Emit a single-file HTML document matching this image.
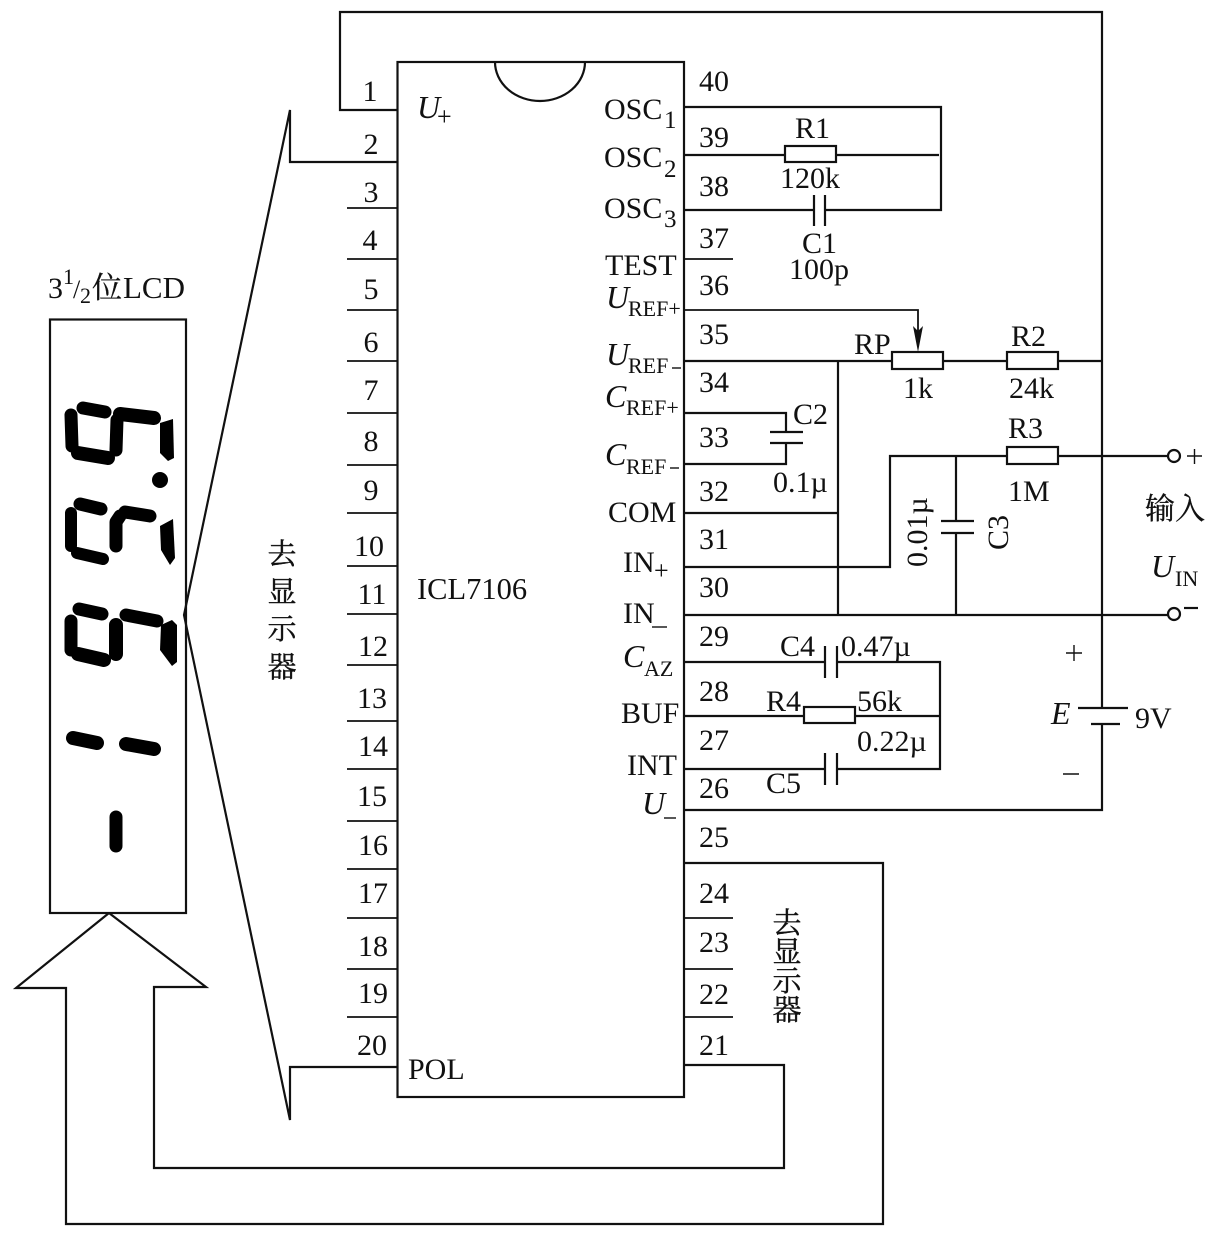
<!DOCTYPE html>
<html><head><meta charset="utf-8"><style>
html,body{margin:0;padding:0;background:#fff}
svg{display:block}
text{font-family:"Liberation Serif","Noto Serif CJK SC",serif;fill:#111;font-size:30px}
.n{font-size:29px;text-anchor:middle}
.s{font-size:22px}
.d{font-size:25px}
.i{font-style:italic;font-size:32px}
.z{font-size:29px;text-anchor:middle;font-family:"Noto Serif CJK SC","Liberation Serif",serif;stroke:#111;stroke-width:.4}
.w{fill:none;stroke:#111;stroke-width:2.2}
.t{fill:none;stroke:#111;stroke-width:1.8}
.b{fill:#fff;stroke:#111;stroke-width:2.2}
.seg{fill:none;stroke:#000;stroke-width:13;stroke-linecap:round;stroke-linejoin:round}
</style></head><body>
<svg width="1226" height="1241" viewBox="0 0 1226 1241" xmlns="http://www.w3.org/2000/svg">
<rect width="1226" height="1241" fill="#fff"/>

<!-- IC -->
<rect x="397.5" y="62" width="286.5" height="1035" class="w"/>
<path d="M495 62 A45 39 0 0 0 585 62" class="w"/>

<!-- left pins -->
<path class="t" d="M347 208H397M347 259H397M347 310H397M347 361H397M347 413H397M347 465H397M347 513H397M347 566H397M347 614H397M347 665H397M347 721H397M347 769H397M347 821H397M347 869H397M347 918H397M347 969H397M347 1017H397"/>
<path class="w" d="M397 110H340V12H1102V708M1102 724V810H684"/>
<path class="w" d="M397 162H290V110L184 615L290 1120V1067H397"/>

<!-- right simple pins -->
<path class="t" d="M684 259H733M684 918H733M684 969H733M684 1017H733"/>

<!-- LCD -->
<rect x="50" y="319.500" width="136" height="593.500" class="w"/>
<path class="w" d="M109 913L16 988H66V1224H883V863H684"/>
<path class="w" d="M109 913L206 987H154V1168H784V1065H684"/>

<g class="seg">
<path d="M71 415L72 446"/><path d="M83 408L105 412"/><path d="M120 414L154 418" style="stroke-width:14"/>
<path d="M117 420L116 450"/><path d="M78 453L108 458" style="stroke-width:14"/>
<path d="M71 513L71 546" style="stroke-width:12"/><path d="M80 504L101 509"/><path d="M125 512L150 516"/>
<path d="M120 516L116 522L116 546"/><path d="M77 553L103 559" style="stroke-width:12"/>
<path d="M71 621L71 650"/><path d="M79 609L102 614"/><path d="M126 615L157 621"/>
<path d="M116 625L116 654" style="stroke-width:14"/><path d="M78 654L104 660" style="stroke-width:14"/>
<path d="M73 738L97 743" style="stroke-width:14"/><path d="M126 744L154 749" style="stroke-width:14"/>
<path d="M116 817L116 846" style="stroke-width:13"/>
</g>
<path d="M160 423L173 419L174 458L168 461L160 453Z" fill="#000"/>
<path d="M160 526L173 519L175 558L170 565L161 550Z" fill="#000"/>
<path d="M161 625L172 620L177 625L177 662L172 666L160 650Z" fill="#000"/>
<circle cx="160" cy="480" r="8" fill="#000"/>

<!-- OSC network -->
<path class="w" d="M684 107H941V210H826M814 210H684M684 155H785M836 155H939"/>
<rect x="785" y="146" width="51" height="16" class="b"/>
<path class="w" d="M814 195V226M825 195V226"/>

<!-- UREF -->
<path class="t" d="M684 310H918V345"/>
<path d="M918 352L913 326L918 331L923 326Z" fill="#111"/>
<path class="w" d="M684 361H892M943 361H1007M1058 361H1102M838 361V614"/>
<rect x="892" y="352" width="51" height="17" class="b"/>
<rect x="1007" y="352" width="51" height="17" class="b"/>

<!-- C2 -->
<path class="w" d="M684 413H786V432M786 443V464H684M770 432H803M770 443H803"/>
<!-- COM / IN -->
<path class="w" d="M684 513H838M684 567H890V456H1007M1058 456H1168M956 456V521M956 533V614M941 521H974M941 533H974M684 615H1168"/>
<rect x="1007" y="447" width="51" height="17" class="b"/>
<circle cx="1174" cy="456" r="6" class="b"/>
<circle cx="1174" cy="614" r="6" class="b"/>
<path class="w" d="M1184 608H1198"/>
<path class="t" d="M1187 456H1202M1194.500 449V464" style="stroke-width:1.400"/>

<!-- CAZ BUF INT -->
<path class="w" d="M684 662H825M837 662H940V769H837M825 769H684M684 716H804M855 716H940M825 646V678M837 646V678M825 753V785M837 753V785"/>
<rect x="804" y="707" width="51" height="16" class="b"/>

<!-- battery -->
<path class="w" d="M1078 708H1128M1091 724H1120"/>
<path class="t" d="M1066 653H1082M1074 645V661M1063 774H1079" style="stroke-width:1.400"/>

<!-- numbers -->
<g class="n">
<text x="370" y="101">1</text><text x="371" y="154">2</text><text x="371" y="202">3</text><text x="370" y="250">4</text><text x="371" y="299">5</text><text x="371" y="352">6</text><text x="371" y="400">7</text><text x="371" y="451">8</text><text x="371" y="500">9</text><text x="369" y="556">10</text><text x="372" y="604">11</text><text x="373" y="656">12</text><text x="372" y="708">13</text><text x="373" y="756">14</text><text x="372" y="806">15</text><text x="373" y="855">16</text><text x="373" y="903">17</text><text x="373" y="956">18</text><text x="373" y="1003">19</text><text x="372" y="1055">20</text>
<text x="714" y="91">40</text><text x="714" y="147">39</text><text x="714" y="196">38</text><text x="714" y="248">37</text><text x="714" y="295">36</text><text x="714" y="344">35</text><text x="714" y="392">34</text><text x="714" y="447">33</text><text x="714" y="501">32</text><text x="714" y="549">31</text><text x="714" y="597">30</text><text x="714" y="646">29</text><text x="714" y="701">28</text><text x="714" y="750">27</text><text x="714" y="798">26</text><text x="714" y="847">25</text><text x="714" y="903">24</text><text x="714" y="952">23</text><text x="714" y="1004">22</text><text x="714" y="1055">21</text>
</g>

<!-- IC labels -->
<text x="417" y="118" class="i">U</text><text x="437" y="125" style="font-size:26px">+</text>
<text x="417" y="599" style="font-size:30.500px">ICL7106</text>
<text x="408" y="1079">POL</text>
<text x="604" y="119">OSC</text><text x="664" y="128" class="d">1</text>
<text x="604" y="167">OSC</text><text x="664" y="177" class="d">2</text>
<text x="604" y="218">OSC</text><text x="664" y="227" class="d">3</text>
<text x="605" y="275">TEST</text>
<text x="606" y="308" class="i">U</text><text x="628" y="316" class="s">REF+</text>
<text x="606" y="365" class="i">U</text><text x="628" y="373" class="s">REF</text>
<path class="t" d="M672 368H681" style="stroke-width:1.400"/>
<text x="605" y="407" class="i">C</text><text x="626" y="415" class="s">REF+</text>
<text x="605" y="465" class="i">C</text><text x="626" y="474" class="s">REF</text>
<path class="t" d="M670 468H679" style="stroke-width:1.400"/>
<text x="608" y="522">COM</text>
<text x="623" y="572">IN</text><text x="654" y="579" style="font-size:26px">+</text>
<text x="623" y="623">IN</text>
<path class="t" d="M652 627H667" style="stroke-width:1.400"/>
<text x="623" y="667" class="i">C</text><text x="644" y="676" class="s">AZ</text>
<text x="621" y="723">BUF</text>
<text x="627" y="775">INT</text>
<text x="642" y="814" class="i">U</text>
<path class="t" d="M664 818H676" style="stroke-width:1.400"/>

<!-- component labels -->
<text x="795" y="138">R1</text>
<text x="780" y="188">120k</text>
<text x="802" y="253">C1</text>
<text x="789" y="279">100p</text>
<text x="854" y="354">RP</text>
<text x="903" y="398">1k</text>
<text x="1011" y="346">R2</text>
<text x="1009" y="398">24k</text>
<text x="793" y="424">C2</text>
<text x="773" y="492">0.1µ</text>
<text x="1008" y="438">R3</text>
<text x="1008" y="501">1M</text>
<text transform="translate(927,567) rotate(-90)">0.01µ</text>
<text transform="translate(1008,550) rotate(-90)">C3</text>
<text x="780" y="656">C4</text>
<text x="841" y="656">0.47µ</text>
<text x="766" y="711">R4</text>
<text x="857" y="711">56k</text>
<text x="857" y="751">0.22µ</text>
<text x="766" y="793">C5</text>
<text x="1051" y="724" class="i">E</text>
<text x="1135" y="728">9V</text>
<text x="1151" y="577" class="i">U</text><text x="1175" y="586" class="s">IN</text>
<text x="1145" y="519" style="font-family:'Noto Serif CJK SC',serif;stroke:#111;stroke-width:.3">输入</text>

<!-- LCD title -->
<text x="48" y="298">3</text><text x="63" y="284" class="s">1</text><text x="73" y="298" style="font-size:26px">/</text><text x="80" y="303" class="s">2</text>
<text x="92" y="298" style="font-family:'Noto Serif CJK SC',serif;stroke:#111;stroke-width:.3">位</text><text x="123" y="298" style="font-size:31px">LCD</text>

<!-- Chinese vertical -->
<text class="z" x="282" y="564">去</text>
<text class="z" x="282" y="602">显</text>
<text class="z" x="282" y="639">示</text>
<text class="z" x="282" y="677">器</text>
<text class="z" x="787" y="933">去</text>
<text class="z" x="787" y="962">显</text>
<text class="z" x="787" y="991">示</text>
<text class="z" x="787" y="1020">器</text>
</svg>
</body></html>
